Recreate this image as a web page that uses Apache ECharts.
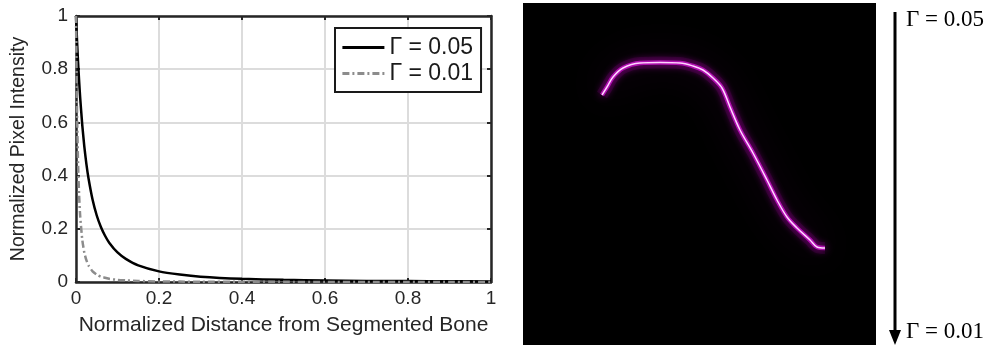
<!DOCTYPE html>
<html>
<head>
<meta charset="utf-8">
<script src="https://cdn.jsdelivr.net/npm/echarts@6/dist/echarts.min.js"></script>
<style>
  html, body { margin: 0; padding: 0; background: #fff; }
  #chart { width: 989px; height: 345px; }
</style>
</head>
<body>
<div id="chart"></div>
<script>
// normalized distance from segmented bone (x)
const distance = [0, 0.0025, 0.005, 0.0075, 0.01, 0.015, 0.02, 0.025, 0.03, 0.04, 0.05, 0.06, 0.07, 0.08, 0.1, 0.12, 0.15, 0.2, 0.25, 0.3, 0.4, 0.5, 0.6, 0.7, 0.8, 0.9, 1.0];
// normalized pixel intensity
const gamma05 = [1, 0.907, 0.826, 0.756, 0.694, 0.592, 0.51, 0.444, 0.391, 0.309, 0.25, 0.207, 0.174, 0.148, 0.111, 0.087, 0.0625, 0.04, 0.028, 0.02, 0.012, 0.008, 0.006, 0.004, 0.0035, 0.003, 0.002];
const gamma01 = [1, 0.64, 0.444, 0.327, 0.25, 0.16, 0.111, 0.082, 0.0625, 0.04, 0.028, 0.02, 0.016, 0.012, 0.008, 0.006, 0.004, 0.002, 0.0015, 0.001, 0.0008, 0.0005, 0.0004, 0.0003, 0.0002, 0.0002, 0.0001];
const seriesNames = ["\u0393 = 0.05", "\u0393 = 0.01"];
const tickValues = [0, 0.2, 0.4, 0.6, 0.8, 1];

// bone outline in image pixel coords (right panel, y grows downward)
const boneX = [79, 84, 90, 100, 117, 137, 157, 170, 180, 190, 199, 207, 217, 230, 244, 254, 264, 274, 287, 294, 302];
const boneY = [92, 84, 74, 65, 60, 59.5, 60, 63, 67, 75, 85, 104, 127, 150, 177, 197, 214, 225, 237, 244, 245];
const arrowLabels = ["\u0393 = 0.05", "\u0393 = 0.01"];

const pairs = (xs, ys) => xs.map((x, i) => [x, ys[i]]);
const tickFmt = (v) => (tickValues.includes(+v.toFixed(2)) ? String(+v.toFixed(2)) : "");

const chart = echarts.init(document.getElementById("chart"));

const sans = "Liberation Sans, Arial, sans-serif";
const gridStyle = { lineStyle: { color: "#dcdcdc", width: 2 } };
const axisLine = { show: true, onZero: false, lineStyle: { color: "#262626", width: 2.5 } };
const tickIn = { show: true, inside: true, length: 4, lineStyle: { color: "#262626", width: 2 } };
const tickFont = { color: "#262626", fontSize: 19, fontFamily: sans };
const boneLine = (extra) => ({
  type: "line", xAxisIndex: 2, yAxisIndex: 2, data: pairs(boneX, boneY),
  symbol: "none", silent: true, smooth: 0.35, ...extra,
});

chart.setOption({
  animation: false,
  backgroundColor: "#fff",
  grid: [
    { left: 76, top: 16, width: 415, height: 266 },
    { left: 523, top: 3, width: 353, height: 342, show: true, backgroundColor: "#000", borderWidth: 0 },
  ],
  legend: {
    data: seriesNames,
    orient: "vertical",
    left: 335,
    top: 28,
    padding: [8, 8, 7, 6],
    itemWidth: 42,
    itemHeight: 14,
    itemGap: 3,
    itemStyle: { color: "rgba(0,0,0,0)", borderWidth: 0 },
    lineStyle: { width: 2.8 },
    borderColor: "#1a1a1a",
    borderWidth: 2,
    backgroundColor: "#fff",
    textStyle: { color: "#1a1a1a", fontSize: 23, fontFamily: sans },
  },
  xAxis: [
    {
      type: "value", gridIndex: 0, min: 0, max: 1, interval: 0.2,
      name: "Normalized Distance from Segmented Bone",
      nameLocation: "middle", nameGap: 33,
      nameTextStyle: { color: "#262626", fontSize: 21, fontFamily: sans },
      axisLine, axisTick: tickIn,
      axisLabel: { ...tickFont, margin: 7, formatter: tickFmt },
      splitLine: { show: true, ...gridStyle },
    },
    {
      type: "value", gridIndex: 0, position: "top", min: 0, max: 1, interval: 0.2,
      axisLine, axisTick: tickIn, axisLabel: { show: false }, splitLine: { show: false },
    },
    { type: "value", gridIndex: 1, min: 0, max: 353, show: false },
  ],
  yAxis: [
    {
      type: "value", gridIndex: 0, min: 0, max: 1, interval: 0.2,
      name: "Normalized Pixel Intensity",
      nameLocation: "middle", nameGap: 47,
      nameTextStyle: { color: "#262626", fontSize: 19.5, fontFamily: sans },
      axisLine, axisTick: tickIn,
      axisLabel: { ...tickFont, margin: 8, formatter: tickFmt },
      splitLine: { show: true, ...gridStyle },
    },
    {
      type: "value", gridIndex: 0, position: "right", min: 0, max: 1, interval: 0.2,
      axisLine, axisTick: tickIn, axisLabel: { show: false }, splitLine: { show: false },
    },
    { type: "value", gridIndex: 1, min: 0, max: 342, inverse: true, show: false },
  ],
  series: [
    {
      name: seriesNames[0], type: "line", xAxisIndex: 0, yAxisIndex: 0,
      data: pairs(distance, gamma05), symbol: "none", smooth: 0.2,
      lineStyle: { color: "#000", width: 2.5 },
      itemStyle: { color: "#000" },
    },
    {
      name: seriesNames[1], type: "line", xAxisIndex: 0, yAxisIndex: 0,
      data: pairs(distance, gamma01), symbol: "none", smooth: 0.2,
      lineStyle: { color: "#8c8c8c", width: 2.5, type: [7, 3, 2, 3] },
      itemStyle: { color: "#8c8c8c" },
    },
    boneLine({ name: "haze", lineStyle: { color: "rgba(110,0,110,0.2)", width: 12, shadowBlur: 40, shadowColor: "rgba(150,0,150,0.8)" } }),
    boneLine({ name: "glow", lineStyle: { color: "rgba(210,20,210,0.75)", width: 4.5, shadowBlur: 8, shadowColor: "#d000d0" } }),
    boneLine({ name: "bone", lineStyle: { color: "#ffd4ff", width: 1.5 } }),
  ],
  graphic: [
    { type: "line", shape: { x1: 895, y1: 12, x2: 895, y2: 332 }, style: { stroke: "#000", lineWidth: 3 } },
    { type: "polygon", shape: { points: [[889, 330], [901, 330], [895, 345]] }, style: { fill: "#000" } },
    { type: "text", left: 906, top: 8, style: { text: arrowLabels[0], fill: "#000", font: "23px 'Liberation Serif', serif" } },
    { type: "text", left: 906, top: 320, style: { text: arrowLabels[1], fill: "#000", font: "23px 'Liberation Serif', serif" } },
  ],
});
</script>
</body>
</html>
